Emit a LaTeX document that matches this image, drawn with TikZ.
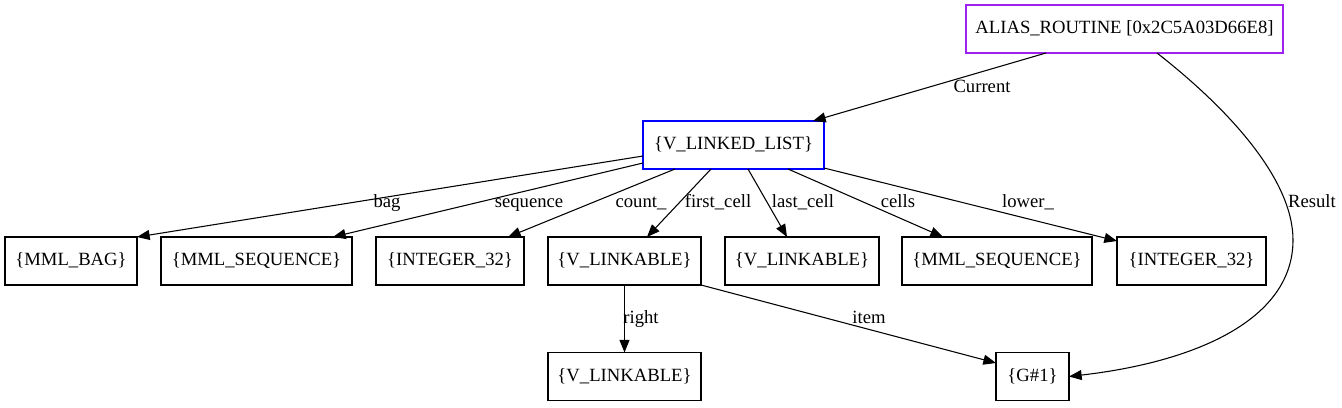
\documentclass[tikz,border=0pt]{standalone}
\usepackage{fontspec}
\setmainfont{Liberation Serif}
\usetikzlibrary{arrows.meta,calc}
\definecolor{rpurple}{HTML}{A020F0}
\tikzset{
  box/.style={draw, line width=0.8pt, rectangle, inner sep=0pt, outer sep=0pt,
    minimum height=36pt, font=\fontsize{14pt}{16pt}\selectfont,
    text height=10pt, text depth=3.2pt},
  edge/.style={line width=0.8pt, -{Triangle[length=9.5pt,width=7.5pt]}},
  lbl/.style={anchor=base, inner sep=0pt, font=\fontsize{14pt}{16pt}\selectfont}
}
\begin{document}
\begin{tikzpicture}[x=0.75pt,y=-0.75pt]
\useasboundingbox (0,0) rectangle (1342,407);
% nodes
\node[box, draw=rpurple, minimum width=237.75pt] (ar) at (1124.5,29) {ALIAS\_ROUTINE [0x2C5A03D66E8]};
\node[box, draw=blue, minimum width=135.75pt] (vll) at (733.5,145) {\{V\_LINKED\_LIST\}};
\node[box, minimum width=99pt] (mbag) at (71,261) {\{MML\_BAG\}};
\node[box, minimum width=143.25pt] (mseq1) at (256.5,261) {\{MML\_SEQUENCE\}};
\node[box, minimum width=111pt] (int1) at (450,261) {\{INTEGER\_32\}};
\node[box, minimum width=114.75pt] (vl1) at (624.5,261) {\{V\_LINKABLE\}};
\node[box, minimum width=115.5pt] (vl2) at (802,261) {\{V\_LINKABLE\}};
\node[box, minimum width=142.5pt] (mseq2) at (997,261) {\{MML\_SEQUENCE\}};
\node[box, minimum width=111.75pt] (int2) at (1191.5,261) {\{INTEGER\_32\}};
\node[box, minimum width=114.75pt] (vl3) at (624.5,376.5) {\{V\_LINKABLE\}};
\node[box, minimum width=54.75pt] (g1) at (1032.5,376.5) {\{G\#1\}};
% edges
\draw[edge] ($(ar.south)+(-78.5,0)$) -- ($(vll.north)+(79.5,0)$) node[lbl] at (982,92) {Current};
\draw[edge] ($(ar.south)+(32.5,0)$) .. controls (1230,110) and (1293,180) .. (1293,240)
   .. controls (1293,320) and (1195,362) .. (g1.east) node[lbl] at (1312,207) {Result};
\draw[edge] ($(vll.west)+(0,11)$) -- (mbag.north east) node[lbl] at (387,207) {bag};
\draw[edge] ($(vll.west)+(0,18)$) -- ($(mseq1.north)+(76.5,0)$) node[lbl] at (529,207) {sequence};
\draw[edge] ($(vll.south)+(-58.5,0)$) -- ($(int1.north)+(58,0)$) node[lbl] at (641,207) {count\_};
\draw[edge] ($(vll.south)+(-22.5,0)$) -- ($(vl1.north)+(22.5,0)$) node[lbl] at (718,207) {first\_cell};
\draw[edge] ($(vll.south)+(14.5,0)$) -- ($(vl2.north)+(-15,0)$) node[lbl] at (803,207) {last\_cell};
\draw[edge] ($(vll.south)+(54.5,0)$) -- ($(mseq2.north)+(-54,0)$) node[lbl] at (898,207) {cells};
\draw[edge] ($(vll.south east)+(0,-1)$) -- ($(int2.north west)+(0,4)$) node[lbl] at (1028,207) {lower\_};
\draw[edge] (vl1.south) -- (vl3.north) node[lbl] at (641,323) {right};
\draw[edge] (vl1.south east) -- ($(g1.west)+(0,-13.5)$) node[lbl] at (869,323) {item};
\end{tikzpicture}
\end{document}
